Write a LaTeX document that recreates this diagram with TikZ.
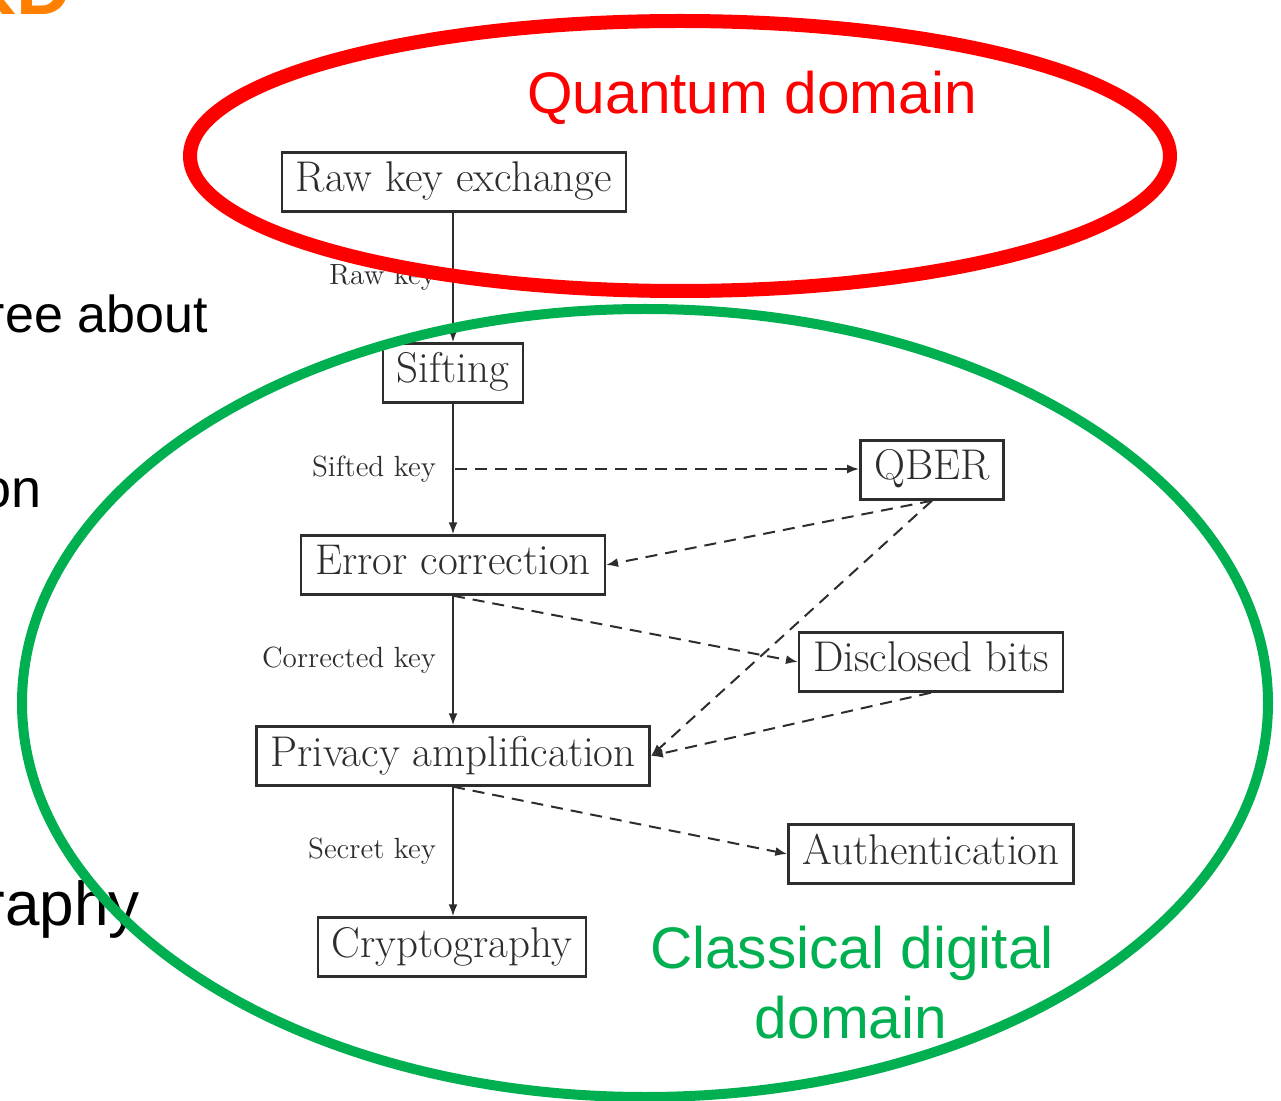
\documentclass[tikz,border=0pt]{standalone}
\usepackage{fontspec}
\newfontfamily\arial{Liberation Sans}
\usetikzlibrary{arrows.meta}
\definecolor{qred}{RGB}{255,0,0}
\definecolor{qgreen}{RGB}{0,176,80}
\definecolor{qorange}{RGB}{255,128,0}
\definecolor{ink}{RGB}{45,45,45}
\begin{document}
\begin{tikzpicture}[x=0.5pt,y=-0.5pt,
  box/.style={draw=ink, line width=1.2pt, text=ink, font=\fontsize{21.5}{24}\selectfont,
    inner xsep=7pt, inner ysep=0pt, text height=15pt, text depth=5pt, minimum height=29.5pt},
  lbl/.style={text=ink, font=\fontsize{14.6}{16}\selectfont, inner sep=0pt, anchor=east, xshift=-8pt},
  flow/.style={draw=ink, line width=1pt, -{Latex[length=6pt,width=4.5pt]}},
  dflow/.style={flow, dash pattern=on 6pt off 4pt},
  slide/.style={text=black, inner sep=0pt, anchor=base east},
]
\useasboundingbox (0,0) rectangle (1281,1101);
\clip (0,0) rectangle (1281,1101);

% slide fragments
\node[slide, text=qorange, font=\arial\bfseries\fontsize{38}{40}\selectfont] (title) at (72,15) {QKD};
\node[slide, font=\arial\fontsize{26}{30}\selectfont] (t1) at (208,333) {ree about};
\node[slide, font=\arial\fontsize{27}{30}\selectfont] (t2) at (42,508) {on};
\node[slide, font=\arial\fontsize{31}{34}\selectfont] (t3) at (140,925) {raphy};

% diagram boxes
\node[box] (raw) at (454,182) {Raw key exchange};
\node[box] (sift) at (453,373) {Sifting};
\node[box] (err) at (453,565) {Error correction};
\node[box] (priv) at (453,756) {Privacy amplification};
\node[box] (crypt) at (452,947) {Cryptography};
\node[box] (qber) at (932,470) {QBER};
\node[box] (disc) at (931,662) {Disclosed bits};
\node[box] (auth) at (931,854) {Authentication};

% main flow
\draw[flow] (raw.south -| sift) -- node[lbl] {Raw key} (sift);
\draw[flow] (sift) -- coordinate[pos=.5] (skm) node[lbl] {Sifted key} (err);
\draw[flow] (err) -- node[lbl] {Corrected key} (priv);
\draw[flow] (priv) -- node[lbl] {Secret key} (crypt.north -| priv);

% dashed flows
\draw[dflow] ([xshift=1pt]skm) -- (qber.west |- skm);
\draw[dflow] (qber.south) -- (err.east);
\draw[dflow] (qber.south) -- (priv.east);
\draw[dflow] (err.south) -- (disc.west);
\draw[dflow] (disc.south) -- (priv.east);
\draw[dflow] (priv.south) -- (auth.west);

% domain labels
\node[text=qred, font=\arial\fontsize{29.3}{32}\selectfont, inner sep=0pt, anchor=base] (qd) at (752,114) {Quantum domain};
\node[text=qgreen, font=\arial\fontsize{29.3}{32}\selectfont, inner sep=0pt, anchor=base] (cd1) at (852,968) {Classical digital};
\node[text=qgreen, font=\arial\fontsize{29.3}{32}\selectfont, inner sep=0pt, anchor=base] (cd2) at (851,1038) {domain};

% domain ellipses
\draw[qred, line width=7pt] (680,156) ellipse [x radius=245pt, y radius=67.5pt];
\draw[qgreen, line width=5pt] (645,703) ellipse [x radius=311.5pt, y radius=197pt];
\end{tikzpicture}
\end{document}
